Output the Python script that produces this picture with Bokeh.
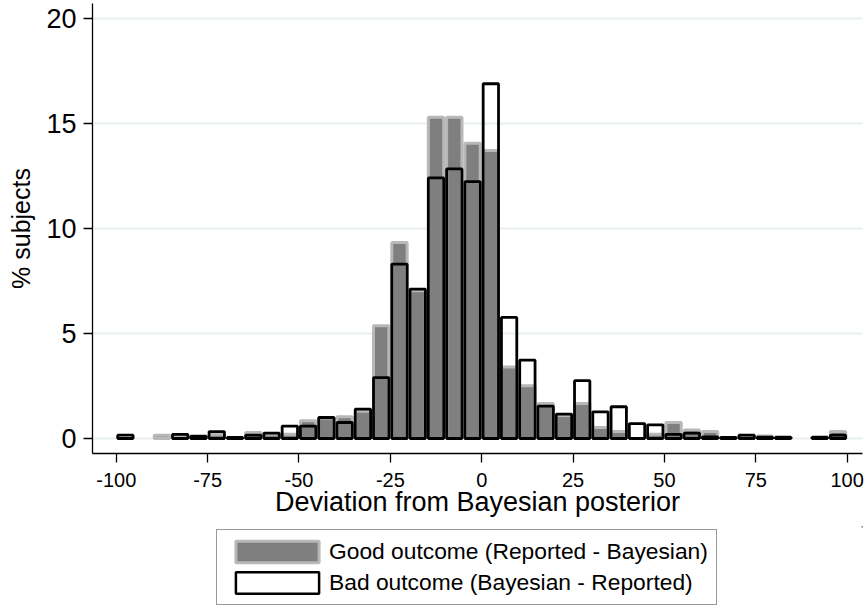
from bokeh.plotting import figure
from bokeh.layouts import column
from bokeh.models import Range1d, Legend, LegendItem, FixedTicker, ColumnDataSource
from bokeh.embed import file_html
from bokeh.resources import INLINE

# ---- data ----
bin_centers = [-97.5, -92.5, -87.5, -82.5, -77.5, -72.5, -67.5, -62.5, -57.5, -52.5,
               -47.5, -42.5, -37.5, -32.5, -27.5, -22.5, -17.5, -12.5, -7.5, -2.5,
               2.5, 7.5, 12.5, 17.5, 22.5, 27.5, 32.5, 37.5, 42.5, 47.5,
               52.5, 57.5, 62.5, 67.5, 72.5, 77.5, 82.5, 87.5, 92.5, 97.5]
good_pct = [0.0, 0.0, 0.16, 0.12, 0.10, 0.20, 0.05, 0.29, 0.20, 0.20,
            0.84, 0.97, 1.03, 1.30, 5.37, 9.33, 7.03, 15.29, 15.29, 14.05,
            13.70, 3.40, 2.51, 1.67, 1.10, 1.67, 0.52, 0.33, 0.0, 0.20,
            0.76, 0.40, 0.33, 0.05, 0.10, 0.12, 0.05, 0.0, 0.0, 0.33]
bad_pct = [0.16, 0.0, 0.0, 0.20, 0.11, 0.33, 0.05, 0.16, 0.26, 0.59,
           0.59, 1.00, 0.76, 1.40, 2.90, 8.30, 7.11, 12.40, 12.83, 12.22,
           16.88, 5.76, 3.73, 1.54, 1.16, 2.75, 1.27, 1.51, 0.71, 0.65,
           0.20, 0.26, 0.08, 0.05, 0.16, 0.06, 0.06, 0.0, 0.06, 0.16]
x_ticks = [-100, -75, -50, -25, 0, 25, 50, 75, 100]
y_ticks = [0, 5, 10, 15, 20]
good_label = "Good outcome (Reported - Bayesian)"
bad_label = "Bad outcome (Bayesian - Reported)"
x_title = "Deviation from Bayesian posterior"
y_title = "% subjects"

FONT = "Liberation Sans"
GOOD_FILL, GOOD_LINE = "#7f7f7f", "#b8b8b8"
BAD_LINE = "#000000"

good_src = ColumnDataSource(dict(
    x=[c for c, v in zip(bin_centers, good_pct) if v > 0],
    top=[v for v in good_pct if v > 0]))
bad_src = ColumnDataSource(dict(
    x=[c for c, v in zip(bin_centers, bad_pct) if v > 0],
    top=[v for v in bad_pct if v > 0]))

p = figure(width=866, height=526, output_backend="svg", toolbar_location=None,
           x_range=Range1d(-106.5, 104.2), y_range=Range1d(-0.714, 20.7),
           min_border_left=92, min_border_right=4, min_border_top=3, min_border_bottom=73)
p.background_fill_color = "white"
p.border_fill_color = "white"
p.outline_line_color = None

r_good = p.vbar(x="x", top="top", bottom=0, width=4.2, source=good_src,
                fill_color=GOOD_FILL, line_color=GOOD_LINE, line_width=3)
r_bad = p.vbar(x="x", top="top", bottom=0, width=4.2, source=bad_src,
               fill_color=None, line_color=BAD_LINE, line_width=2.8)

# grid
p.xgrid.visible = False
p.ygrid.grid_line_color = "#e8eff1"
p.ygrid.grid_line_width = 2
p.ygrid.level = "underlay"

# axes
p.xaxis.ticker = FixedTicker(ticks=x_ticks)
p.yaxis.ticker = FixedTicker(ticks=y_ticks)
p.xaxis.major_label_overrides = {t: str(t) for t in x_ticks}
for ax in (p.xaxis[0], p.yaxis[0]):
    ax.axis_line_color = "#000000"
    ax.axis_line_width = 1.3
    ax.major_tick_line_color = "#000000"
    ax.major_tick_line_width = 1.3
    ax.major_tick_out = 9
    ax.major_tick_in = 0
    ax.minor_tick_line_color = None
    ax.major_label_text_font = FONT
    ax.major_label_text_color = "#000000"
    ax.axis_label_text_font = FONT
    ax.axis_label_text_font_style = "normal"
    ax.axis_label_text_color = "#000000"

p.xaxis.axis_label = x_title
p.xaxis.major_label_text_font_size = "20px"
p.xaxis.major_label_standoff = 10
p.xaxis.axis_label_text_font_size = "27px"
p.xaxis.axis_label_standoff = -3

p.yaxis.axis_label = y_title
p.yaxis.major_label_text_font_size = "27px"
p.yaxis.major_label_orientation = "horizontal"
p.yaxis.major_label_standoff = 7
p.yaxis.axis_label_text_font_size = "25px"
p.yaxis.axis_label_standoff = 8

# ---- legend panel below the plot (its frame is aligned with the plot frame) ----
p2 = figure(width=866, height=80, output_backend="svg", toolbar_location=None,
            x_range=Range1d(0, 1), y_range=Range1d(0, 1),
            x_axis_location=None, y_axis_location=None,
            min_border_left=0, min_border_right=0, min_border_top=0, min_border_bottom=0)
p2.grid.visible = False
p2.outline_line_color = None
p2.background_fill_color = "white"
p2.border_fill_color = "white"
# legend-only proxies (placed outside the visible range, so only the legend swatches show)
lg_good = p2.vbar(x=[5], top=[5], bottom=[4], width=1,
                  fill_color=GOOD_FILL, line_color=GOOD_LINE, line_width=3)
lg_bad = p2.vbar(x=[5], top=[5], bottom=[4], width=1,
                 fill_color="white", line_color=BAD_LINE, line_width=2.5)

legend = Legend(items=[LegendItem(label=good_label, renderers=[lg_good]),
                       LegendItem(label=bad_label, renderers=[lg_bad])],
                location=(124, 1), orientation="vertical")
legend.label_text_font = FONT
legend.label_text_font_size = "22.8px"
legend.label_text_color = "#000000"
legend.glyph_width = 104
legend.glyph_height = 27
legend.label_height = 22
legend.label_standoff = -2
legend.spacing = 4
legend.padding = 8
legend.margin = 0
legend.border_line_color = "#333333"
legend.border_line_width = 1.5
legend.background_fill_color = "white"
p2.add_layout(legend, "center")

layout = column(p, p2, spacing=0)
open("out.html", "w").write(file_html(layout, INLINE))
